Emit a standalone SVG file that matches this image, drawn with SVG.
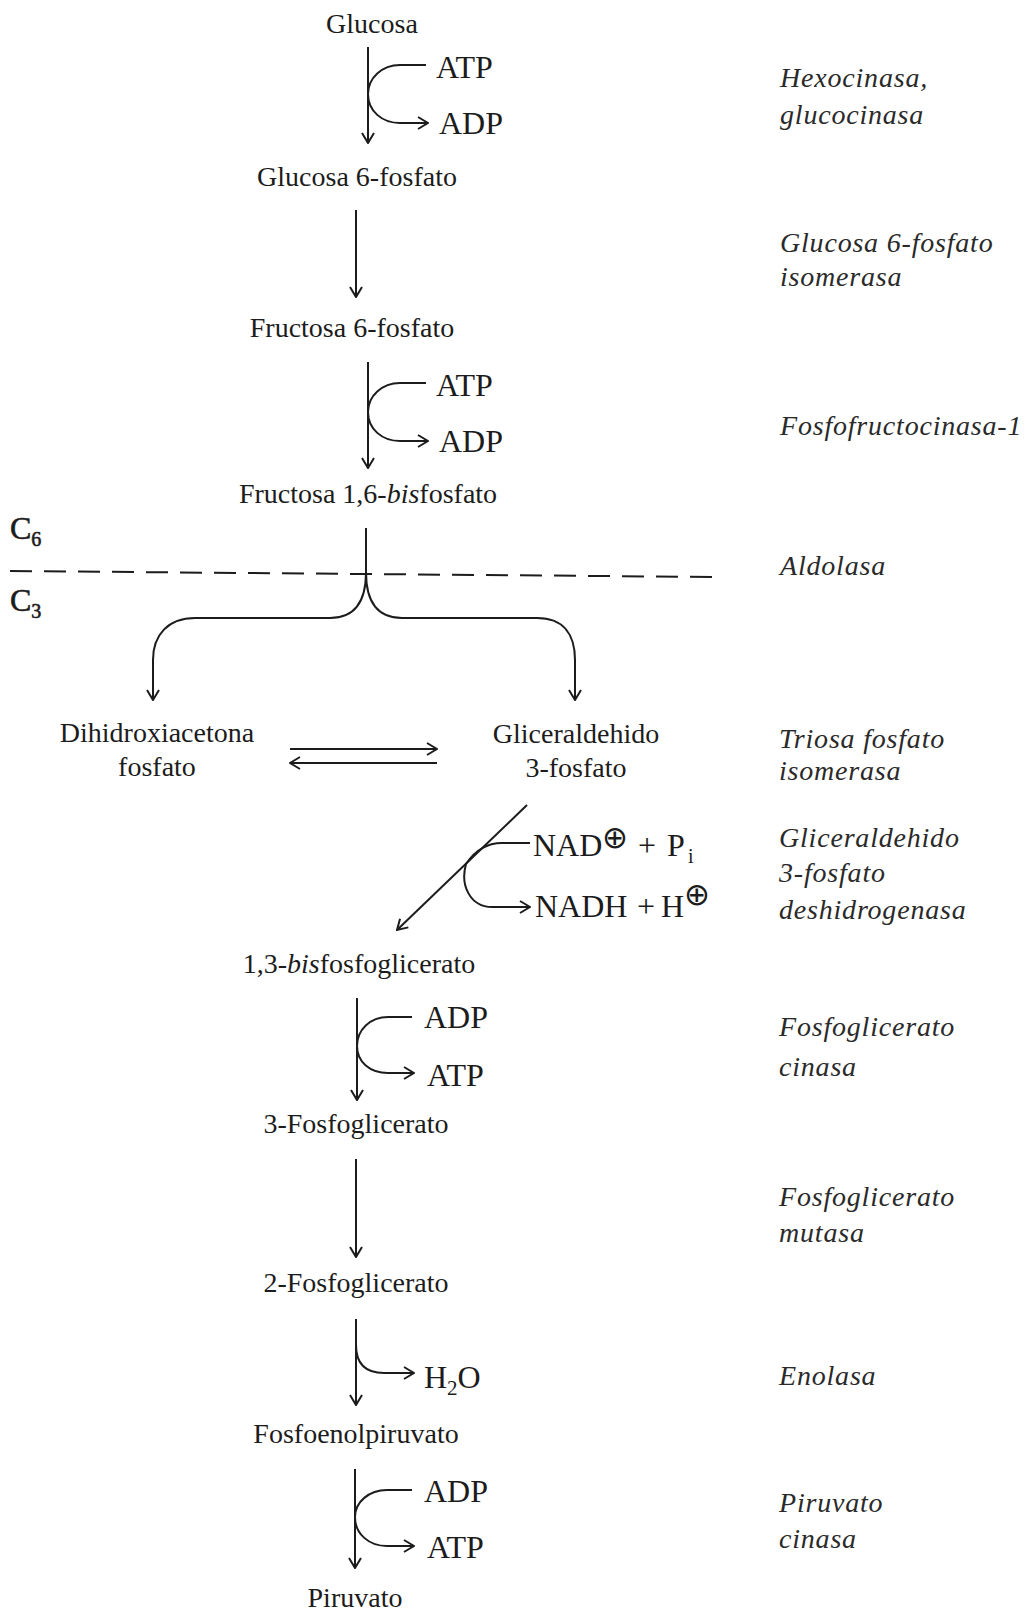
<svg xmlns="http://www.w3.org/2000/svg" width="1027" height="1614" viewBox="0 0 1027 1614">
<defs>
<style>
.t{font-family:"Liberation Serif","Times New Roman",serif;font-size:28px;fill:#1c1c1c}
.c{text-anchor:middle}
.co{font-family:"Liberation Serif","Times New Roman",serif;font-size:32px;fill:#1c1c1c}
.cl{font-family:"Liberation Serif","Times New Roman",serif;font-size:32px;fill:#1c1c1c;stroke:#1c1c1c;stroke-width:0.6}
.e{font-family:"Liberation Serif","Times New Roman",serif;font-size:28px;font-style:italic;fill:#2a2a2a;letter-spacing:0.8px}
.ln{fill:none;stroke:#1c1c1c;stroke-width:2}
.ar{marker-end:url(#ah)}
.sym{font-family:"DejaVu Sans",sans-serif;font-size:31px;fill:#1c1c1c}
</style>
<marker id="ah" viewBox="0 0 12 14" refX="11" refY="7" markerWidth="12" markerHeight="14" markerUnits="userSpaceOnUse" orient="auto">
<path d="M1,1 L11,7 L1,13" fill="none" stroke="#1c1c1c" stroke-width="2"/>
</marker>
</defs>
<rect width="1027" height="1614" fill="#ffffff"/>

<g id="connectors">
<path class="ln ar" d="M368,47 V143"/>
<path class="ln ar" d="M426,65 H400 C382,65 368,78 368,94 C368,111 382,123 400,123 H428"/>
<path class="ln ar" d="M356,210 V297"/>
<path class="ln ar" d="M368,362 V468"/>
<path class="ln ar" d="M426,383 H400 C382,383 368,396 368,412 C368,429 382,441 400,441 H428"/>
<path class="ln ar" d="M366,528 V572 C366,605 352,618 330,618 H195 C168,618 153,635 153,660 V700"/>
<path class="ln ar" d="M366,572 C366,605 380,618 402,618 H537 C564,618 575,635 575,660 V700"/>
<path class="ln" d="M10,571 L717,577" stroke-dasharray="22 12"/>
<path class="ln ar" d="M290,749 H437"/>
<path class="ln ar" d="M437,763 H290"/>
<path class="ln ar" d="M527,805 L397,930"/>
<path class="ln ar" d="M530,843 H502 C486,843 474,852 466,864 C460,885 470,907 492,907 H530"/>
<path class="ln ar" d="M357,998 V1100"/>
<path class="ln ar" d="M412,1017 H388 C370,1017 357,1030 357,1046 C357,1062 370,1073 388,1073 H414"/>
<path class="ln ar" d="M356,1159 V1257"/>
<path class="ln ar" d="M356,1319 V1405"/>
<path class="ln ar" d="M356,1345 C356,1365 367,1373 384,1373 H414"/>
<path class="ln ar" d="M355,1469 V1568"/>
<path class="ln ar" d="M412,1490 H387 C369,1490 355,1502 355,1517 C355,1534 369,1546 387,1546 H414"/>
</g>

<g id="glucosa"><text class="t c" x="372" y="33">Glucosa</text></g>
<g id="glucosa6p"><text class="t c" x="357" y="186">Glucosa 6-fosfato</text></g>
<g id="fructosa6p"><text class="t c" x="352" y="337">Fructosa 6-fosfato</text></g>
<g id="fructosa16bp"><text class="t c" x="368" y="503">Fructosa 1,6-<tspan font-style="italic">bis</tspan>fosfato</text></g>
<g id="dhap"><text class="t c" x="157" y="742">Dihidroxiacetona</text><text class="t c" x="157" y="776">fosfato</text></g>
<g id="g3p"><text class="t c" x="576" y="743">Gliceraldehido</text><text class="t c" x="576" y="777">3-fosfato</text></g>
<g id="bpg13"><text class="t c" x="359" y="973">1,3-<tspan font-style="italic">bis</tspan>fosfoglicerato</text></g>
<g id="pg3"><text class="t c" x="356" y="1133">3-Fosfoglicerato</text></g>
<g id="pg2"><text class="t c" x="356" y="1292">2-Fosfoglicerato</text></g>
<g id="pep"><text class="t c" x="356" y="1443">Fosfoenolpiruvato</text></g>
<g id="piruvato"><text class="t c" x="355" y="1607">Piruvato</text></g>

<g id="cofactors">
<text class="co" x="436" y="78">ATP</text>
<text class="co" x="439" y="134">ADP</text>
<text class="co" x="436" y="396">ATP</text>
<text class="co" x="439" y="452">ADP</text>
<text class="co" x="533" y="856">NAD<tspan class="sym" x="602" dy="-8">⊕</tspan><tspan x="638" dy="8">+</tspan><tspan x="667">P</tspan><tspan font-size="20" x="688" dy="7">i</tspan></text>
<text class="co" x="535" y="917">NADH<tspan x="637">+</tspan><tspan x="661">H</tspan><tspan class="sym" x="684" dy="-12">⊕</tspan></text>
<text class="co" x="424" y="1028">ADP</text>
<text class="co" x="427" y="1086">ATP</text>
<text class="co" x="424" y="1388">H<tspan font-size="21" dy="7">2</tspan><tspan dy="-7">O</tspan></text>
<text class="co" x="424" y="1502">ADP</text>
<text class="co" x="427" y="1558">ATP</text>
</g>

<g id="carbon-labels">
<text class="cl" x="10" y="539">C<tspan font-size="20" dy="7">6</tspan></text>
<text class="cl" x="10" y="611">C<tspan font-size="20" dy="7">3</tspan></text>
</g>

<g id="enzymes">
<text class="e" x="780" y="87">Hexocinasa,</text>
<text class="e" x="780" y="124">glucocinasa</text>
<text class="e" x="780" y="252">Glucosa 6-fosfato</text>
<text class="e" x="780" y="286">isomerasa</text>
<text class="e" x="780" y="435">Fosfofructocinasa-1</text>
<text class="e" x="780" y="575">Aldolasa</text>
<text class="e" x="779" y="748">Triosa fosfato</text>
<text class="e" x="779" y="780">isomerasa</text>
<text class="e" x="779" y="847">Gliceraldehido</text>
<text class="e" x="779" y="882">3-fosfato</text>
<text class="e" x="779" y="919">deshidrogenasa</text>
<text class="e" x="779" y="1036">Fosfoglicerato</text>
<text class="e" x="779" y="1076">cinasa</text>
<text class="e" x="779" y="1206">Fosfoglicerato</text>
<text class="e" x="779" y="1242">mutasa</text>
<text class="e" x="779" y="1385">Enolasa</text>
<text class="e" x="779" y="1512">Piruvato</text>
<text class="e" x="779" y="1548">cinasa</text>
</g>
</svg>
